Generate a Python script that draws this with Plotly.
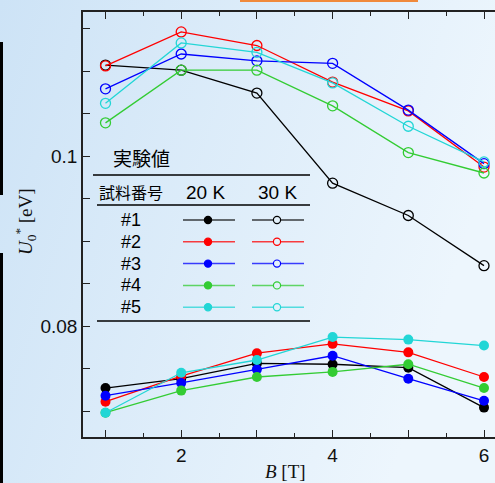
import base64
import plotly.graph_objects as go

# ---------------- data ----------------
B = [1, 2, 3, 4, 5, 6]
samples = ["#1", "#2", "#3", "#4", "#5"]
colors = ["#000000", "#ff0000", "#0000ff", "#33cc33", "#22d6d6"]

u20_s1 = [0.0727, 0.0738, 0.0756, 0.0755, 0.0751, 0.0704]
u20_s2 = [0.0711, 0.0741, 0.0768, 0.0779, 0.0769, 0.0740]
u20_s3 = [0.0718, 0.0733, 0.0749, 0.0765, 0.0738, 0.0712]
u20_s4 = [0.0698, 0.0724, 0.0740, 0.0746, 0.0755, 0.0727]
u20_s5 = [0.0698, 0.0745, 0.0760, 0.0787, 0.0784, 0.0777]

u30_s1 = [0.1107, 0.1101, 0.1074, 0.0968, 0.0930, 0.0871]
u30_s2 = [0.1106, 0.1146, 0.1130, 0.1087, 0.1053, 0.0987]
u30_s3 = [0.1079, 0.1120, 0.1112, 0.1109, 0.1054, 0.0991]
u30_s4 = [0.1039, 0.1101, 0.1101, 0.1059, 0.1004, 0.0980]
u30_s5 = [0.1062, 0.1133, 0.1122, 0.1086, 0.1035, 0.0993]

u20 = [u20_s1, u20_s2, u20_s3, u20_s4, u20_s5]
u30 = [u30_s1, u30_s2, u30_s3, u30_s4, u30_s5]

x_tickvals = [1, 2, 3, 4, 5, 6]
x_ticktext = ["", "2", "", "4", "", "6"]
y_tickvals = [0.07, 0.075, 0.08, 0.085, 0.09, 0.095, 0.1, 0.105, 0.11, 0.115]
y_ticktext = ["", "", "0.08", "", "", "", "0.1", "", "", ""]

# ---------------- layout geometry ----------------
W, H = 495, 483
ML, MR, MT, MB = 83, 0, 12, 46
PW = W - ML - MR
PH = H - MT - MB


def PX(px):
    return (px - ML) / PW


def PY(py):
    return (H - MB - py) / PH


fig = go.Figure()

for i in range(5):
    fig.add_trace(go.Scatter(
        x=B, y=u30[i], mode="lines+markers",
        line=dict(color=colors[i], width=1.3),
        marker=dict(symbol="circle-open", size=10, color=colors[i], line=dict(width=1.3)),
        showlegend=False, cliponaxis=False))
for i in range(5):
    fig.add_trace(go.Scatter(
        x=B, y=u20[i], mode="lines+markers",
        line=dict(color=colors[i], width=1.3),
        marker=dict(symbol="circle", size=10, color=colors[i]),
        showlegend=False, cliponaxis=False))

# ---------------- background gradient ----------------
svg = ('<svg xmlns="http://www.w3.org/2000/svg" width="495" height="483">'
       '<defs><linearGradient id="g" x1="0" y1="0" x2="1" y2="0.3">'
       '<stop offset="0" stop-color="#cde3f6"/><stop offset="1" stop-color="#edf6fd"/>'
       '</linearGradient></defs><rect width="495" height="483" fill="url(#g)"/></svg>')
src = "data:image/svg+xml;base64," + base64.b64encode(svg.encode()).decode()
images = [dict(source=src, xref="paper", yref="paper", x=PX(0), y=PY(0),
               sizex=PX(W) - PX(0), sizey=PY(0) - PY(H), sizing="stretch",
               xanchor="left", yanchor="top", layer="below")]

shapes = []
# left black bars and top orange line
shapes.append(dict(type="rect", xref="paper", yref="paper", x0=PX(0), x1=PX(3), y0=PY(42), y1=PY(195),
                   fillcolor="black", line=dict(width=0)))
shapes.append(dict(type="rect", xref="paper", yref="paper", x0=PX(0), x1=PX(3), y0=PY(253), y1=PY(H),
                   fillcolor="black", line=dict(width=0)))
shapes.append(dict(type="rect", xref="paper", yref="paper", x0=PX(240), x1=PX(418), y0=PY(0), y1=PY(2),
                   fillcolor="#f08a3c", line=dict(width=0)))

# legend table rules
for (x0, yy) in [(93, 175), (97, 205), (97, 321)]:
    shapes.append(dict(type="line", xref="paper", yref="paper", x0=PX(x0), x1=PX(310),
                       y0=PY(yy), y1=PY(yy), line=dict(color="black", width=1.3)))

annotations = []
annotations.append(dict(text="実験値", xref="paper", yref="paper", x=PX(111), y=PY(157),
                        xanchor="left", yanchor="middle", showarrow=False,
                        font=dict(family="Noto Sans CJK JP", size=19, color="black")))
annotations.append(dict(text="試料番号", xref="paper", yref="paper", x=PX(97), y=PY(192),
                        xanchor="left", yanchor="middle", showarrow=False,
                        font=dict(family="Noto Sans CJK JP", size=16, color="black")))
annotations.append(dict(text="20 K", xref="paper", yref="paper", x=PX(205), y=PY(192),
                        xanchor="center", yanchor="middle", showarrow=False,
                        font=dict(family="Liberation Sans, Arial", size=19, color="black")))
annotations.append(dict(text="30 K", xref="paper", yref="paper", x=PX(277), y=PY(192),
                        xanchor="center", yanchor="middle", showarrow=False,
                        font=dict(family="Liberation Sans, Arial", size=19, color="black")))

r = 3.6
for i, name in enumerate(samples):
    yy = 220 + 21.8 * i
    annotations.append(dict(text=name, xref="paper", yref="paper", x=PX(131), y=PY(yy),
                            xanchor="center", yanchor="middle", showarrow=False,
                            font=dict(family="Liberation Sans, Arial", size=18, color="black")))
    for (xa, xb, xm, filled) in [(183, 235, 208, True), (252, 304, 277, False)]:
        shapes.append(dict(type="line", xref="paper", yref="paper", x0=PX(xa), x1=PX(xb),
                           y0=PY(yy), y1=PY(yy), line=dict(color=colors[i], width=1.5), opacity=0.75))
        shapes.append(dict(type="circle", xref="paper", yref="paper",
                           x0=PX(xm - r), x1=PX(xm + r), y0=PY(yy + r), y1=PY(yy - r),
                           fillcolor=colors[i] if filled else "#e3f0fa",
                           line=dict(color=colors[i], width=1.2)))

# axis titles
annotations.append(dict(text="<i>U</i><sub>0</sub><sup>*</sup> [eV]", xref="paper", yref="paper",
                        x=PX(25), y=PY(222), xanchor="center", yanchor="middle", textangle=-90,
                        showarrow=False,
                        font=dict(family="Liberation Serif, Times New Roman", size=19, color="#111")))
annotations.append(dict(text="<i>B</i> [T]", xref="paper", yref="paper",
                        x=PX(285), y=PY(471), xanchor="center", yanchor="middle",
                        showarrow=False,
                        font=dict(family="Liberation Serif, Times New Roman", size=19, color="#111")))

fig.update_layout(
    width=W, height=H,
    margin=dict(l=ML, r=MR, t=MT, b=MB, pad=0),
    paper_bgcolor="#dbeaf8",
    plot_bgcolor="rgba(0,0,0,0)",
    images=images, shapes=shapes, annotations=annotations,
    showlegend=False,
    font=dict(family="Liberation Sans, Arial", size=19, color="#111"),
    xaxis=dict(range=[1 - 22.5 / 75.7, 1 + (W - 105.5) / 75.7], showgrid=False, zeroline=False,
               showline=True, linecolor="#222", linewidth=1.5, mirror="ticks",
               ticks="inside", ticklen=7, tickwidth=1.3, tickcolor="#222",
               tickvals=x_tickvals, ticktext=x_ticktext,
               minor=dict(ticks="inside", ticklen=4, tickwidth=1.3, tickcolor="#222", tick0=1, dtick=0.5),
               tickfont=dict(size=19, color="#111")),
    yaxis=dict(range=[0.1 - 281 / 8500, 0.1 + 144 / 8500], showgrid=False, zeroline=False,
               showline=True, linecolor="#222", linewidth=1.5, mirror=False,
               ticks="inside", ticklen=7, tickwidth=1.3, tickcolor="#222",
               tickvals=y_tickvals, ticktext=y_ticktext,
               tickfont=dict(size=19, color="#111")),
)

fig.write_html("out.html", config={"displayModeBar": False},
               post_script="document.body.style.margin='0';document.body.style.overflow='hidden';")
